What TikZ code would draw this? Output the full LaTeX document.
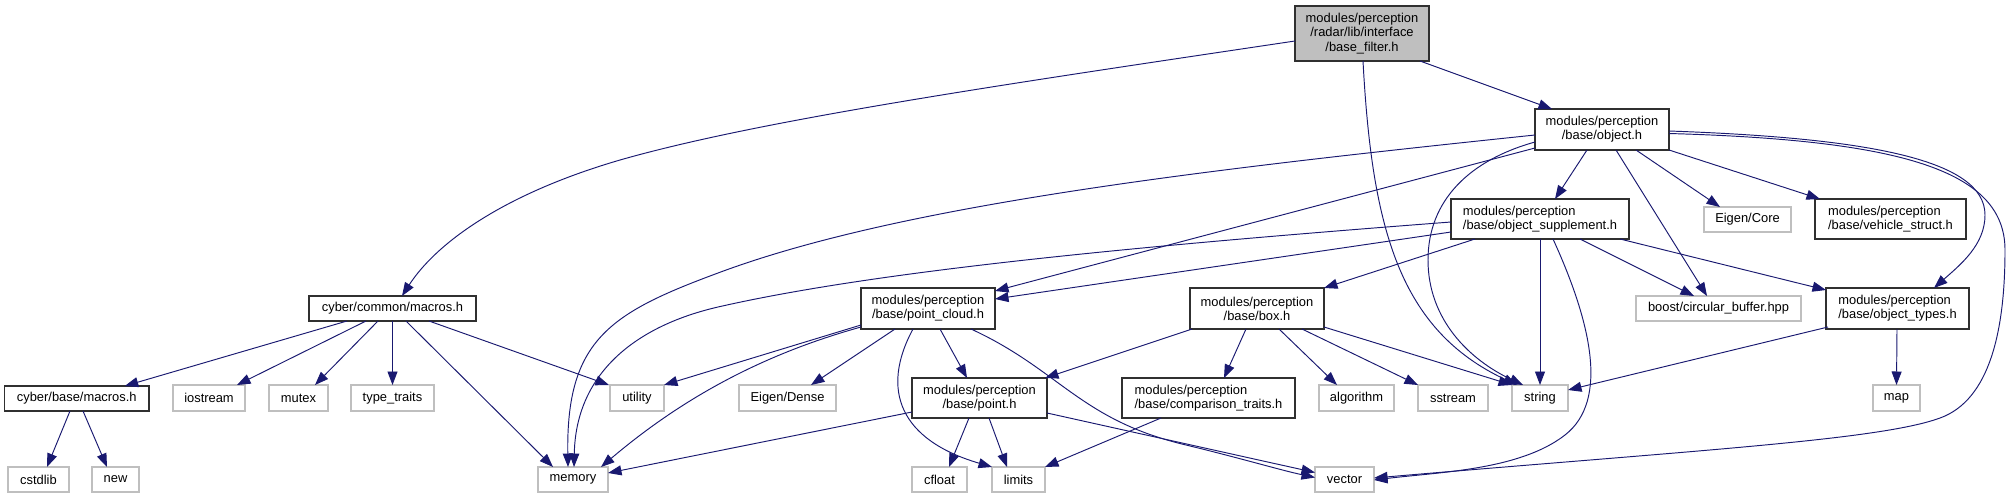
\documentclass[tikz,border=0pt]{standalone}
\usepackage{fontspec}
\setmainfont{Liberation Sans}
\usetikzlibrary{arrows.meta}
\definecolor{edgec}{HTML}{191970}
\definecolor{graybd}{HTML}{BFBFBF}
\definecolor{darkbd}{HTML}{303030}
\begin{document}
\begin{tikzpicture}[x=1pt,y=-1pt,
  every node/.style={font=\fontsize{12.9}{14.2}\selectfont, inner sep=0pt, outer sep=0pt},
  dbox/.style={draw=darkbd, line width=1.2pt, fill=white},
  gbox/.style={draw=graybd, line width=1.1pt, fill=white},
  dep/.style={draw=edgec, line width=0.95pt, -{Triangle[length=13.5pt,width=10pt]}}]
\useasboundingbox (0,0) rectangle (2011,499);
% nodes
\node[dbox, fill=graybd, minimum width=134pt, minimum height=55pt, align=center] (root) at (1362,33.5) {modules/perception\\/radar/lib/interface\\/base\_filter.h};
\node[dbox, minimum width=134pt, minimum height=41pt, align=center] (objh) at (1602,129.5) {modules/perception\\/base/object.h};
\node[dbox, minimum width=178pt, minimum height=40pt, align=left] (objsup) at (1540,219) {modules/perception\\/base/object\_supplement.h};
\node[gbox, minimum width=87pt, minimum height=25pt] (ecore) at (1747.5,219.5) {Eigen/Core};
\node[dbox, minimum width=151pt, minimum height=40pt, align=left] (veh) at (1890.5,219) {modules/perception\\/base/vehicle\_struct.h};
\node[dbox, minimum width=167pt, minimum height=25pt] (cm) at (392.5,308.5) {cyber/common/macros.h};
\node[dbox, minimum width=134pt, minimum height=41pt, align=center] (pc) at (928,308.5) {modules/perception\\/base/point\_cloud.h};
\node[dbox, minimum width=134pt, minimum height=41pt, align=center] (box) at (1257,308.5) {modules/perception\\/base/box.h};
\node[gbox, minimum width=165pt, minimum height=25pt] (boost) at (1718.5,308.5) {boost/circular\_buffer.hpp};
\node[dbox, minimum width=143pt, minimum height=41pt, align=left] (ot) at (1897.5,308.5) {modules/perception\\/base/object\_types.h};
\node[dbox, minimum width=144.5pt, minimum height=25pt] (bm) at (76.75,398.5) {cyber/base/macros.h};
\node[gbox, minimum width=72pt, minimum height=26pt] (io) at (209,398) {iostream};
\node[gbox, minimum width=59pt, minimum height=26pt] (mutex) at (298.5,398) {mutex};
\node[gbox, minimum width=83pt, minimum height=26pt] (tt) at (392.5,398) {type\_traits};
\node[gbox, minimum width=54pt, minimum height=26pt] (util) at (637,398) {utility};
\node[gbox, minimum width=97pt, minimum height=26pt] (edense) at (787.5,398) {Eigen/Dense};
\node[dbox, minimum width=135pt, minimum height=40pt, align=center] (pt) at (979.5,398) {modules/perception\\/base/point.h};
\node[dbox, minimum width=173pt, minimum height=40pt, align=left] (comp) at (1208.5,398) {modules/perception\\/base/comparison\_traits.h};
\node[gbox, minimum width=75pt, minimum height=26pt] (alg) at (1356.5,398) {algorithm};
\node[gbox, minimum width=70pt, minimum height=26pt] (sst) at (1453,398) {sstream};
\node[gbox, minimum width=56pt, minimum height=26pt] (str) at (1540,398) {string};
\node[gbox, minimum width=47pt, minimum height=26pt] (map) at (1896.5,398) {map};
\node[gbox, minimum width=61pt, minimum height=25pt] (cstd) at (38.5,479.5) {cstdlib};
\node[gbox, minimum width=47pt, minimum height=25pt] (new) at (115.5,479.5) {new};
\node[gbox, minimum width=70pt, minimum height=25pt] (mem) at (573,479.5) {memory};
\node[gbox, minimum width=55pt, minimum height=25pt] (cfl) at (939.5,479.5) {cfloat};
\node[gbox, minimum width=53pt, minimum height=25pt] (lim) at (1018.5,479.5) {limits};
\node[gbox, minimum width=59pt, minimum height=25pt] (vec) at (1344.5,479.5) {vector};
% edges from root
\draw[dep] ([shift={(58,0)}]root.south) -- ([shift={(-50,0)}]objh.north);
\draw[dep] ([shift={(0,7.5)}]root.west) .. controls (1000,85) and (760,120) .. (620,160) .. controls (500,195) and (435,245) .. ([shift={(9.5,0)}]cm.north);
\draw[dep] ([shift={(1,0)}]root.south) .. controls (1372,230) and (1400,330) .. ([shift={(-23,0)}]str.north);
% edges from object.h
\draw[dep] ([shift={(0,5.5)}]objh.west) .. controls (1200,170) and (900,205) .. (718,273) .. controls (610,313) and (566,340) .. ([shift={(-5,0)}]mem.north);
\draw[dep] ([shift={(0,18.5)}]objh.west) -- ([shift={(0,-17.5)}]pc.east);
\draw[dep] ([shift={(-15,0)}]objh.south) -- ([shift={(15,0)}]objsup.north);
\draw[dep] ([shift={(0,12.5)}]objh.west) .. controls (1470,160) and (1428,200) .. (1428,260) .. controls (1428,320) and (1470,360) .. ([shift={(-17,0)}]str.north);
\draw[dep] ([shift={(14,0)}]objh.south) -- ([shift={(-11.5,0)}]boost.north);
\draw[dep] ([shift={(34,0)}]objh.south) -- ([shift={(-27.5,0)}]ecore.north);
\draw[dep] (objh.south east) -- ([shift={(5,0)}]veh.north west);
\draw[dep] ([shift={(0,1.5)}]objh.east) .. controls (1870,138) and (1985,160) .. (1985,215) .. controls (1985,245) and (1960,265) .. ([shift={(36.5,0)}]ot.north);
\draw[dep] ([shift={(0,4)}]objh.east) .. controls (1900,140) and (2005,170) .. (2005,250) .. controls (2005,330) and (1990,400) .. (1940,418) .. controls (1880,440) and (1700,450) .. ([shift={(0,-1.5)}]vec.east);
% edges from object_supplement.h
\draw[dep] ([shift={(0,3)}]objsup.west) .. controls (1150,245) and (880,270) .. (718,307) .. controls (640,325) and (576,370) .. ([shift={(1,0)}]mem.north);
\draw[dep] ([shift={(0,13)}]objsup.west) -- ([shift={(0,-9.5)}]pc.east);
\draw[dep] ([shift={(-65,0)}]objsup.south) -- (box.north east);
\draw[dep] ([shift={(40,0)}]objsup.south) -- ([shift={(-24.5,0)}]boost.north);
\draw[dep] (objsup.south) -- (str.north);
\draw[dep] ([shift={(13,0)}]objsup.south) .. controls (1590,320) and (1610,400) .. (1565,435) .. controls (1520,470) and (1440,472) .. ([shift={(0,0.5)}]vec.east);
\draw[dep] ([shift={(80,0)}]objsup.south) -- ([shift={(0,-18.5)}]ot.west);
% edges from cyber/common/macros.h
\draw[dep] ([shift={(-45.5,0)}]cm.south) -- ([shift={(48,0)}]bm.north);
\draw[dep] ([shift={(-26.5,0)}]cm.south) -- ([shift={(28,0)}]io.north);
\draw[dep] ([shift={(-14.5,0)}]cm.south) -- ([shift={(16.5,0)}]mutex.north);
\draw[dep] (cm.south) -- (tt.north);
\draw[dep] ([shift={(36.5,0)}]cm.south) -- ([shift={(-28,0)}]util.north);
\draw[dep] ([shift={(13.5,0)}]cm.south) -- ([shift={(-20,0)}]mem.north);
% edges from cyber/base/macros.h
\draw[dep] ([shift={(-6.75,0)}]bm.south) -- ([shift={(8.5,0)}]cstd.north);
\draw[dep] ([shift={(6.25,0)}]bm.south) -- ([shift={(-8.5,0)}]new.north);
% edges from point_cloud.h
\draw[dep] ([shift={(0,16.5)}]pc.west) -- (util.north east);
\draw[dep] ([shift={(0,18.5)}]pc.west) .. controls (760,355) and (680,400) .. ([shift={(-7,0)}]mem.north east);
\draw[dep] ([shift={(-33,0)}]pc.south) -- ([shift={(23.5,0)}]edense.north);
\draw[dep] ([shift={(12,0)}]pc.south) -- ([shift={(-12.5,0)}]pt.north);
\draw[dep] ([shift={(-15,0)}]pc.south) .. controls (880,390) and (900,440) .. (lim.north west);
\draw[dep] ([shift={(43,0)}]pc.south) .. controls (1060,370) and (1080,420) .. (1186,445) .. controls (1240,458) and (1280,470) .. ([shift={(0,-2)}]vec.west);
% edges from box.h
\draw[dep] ([shift={(2,0)}]box.south west) -- ([shift={(-2,0)}]pt.north east);
\draw[dep] ([shift={(-11,0)}]box.south) -- ([shift={(15.5,0)}]comp.north);
\draw[dep] ([shift={(22,0)}]box.south) -- ([shift={(-19.5,0)}]alg.north);
\draw[dep] ([shift={(45,0)}]box.south) -- (sst.north west);
\draw[dep] ([shift={(0,-2)}]box.south east) -- (str.north west);
% edges from point.h
\draw[dep] ([shift={(0,14)}]pt.west) -- ([shift={(0,-6.5)}]mem.east);
\draw[dep] ([shift={(-10.5,0)}]pt.south) -- ([shift={(9.5,0)}]cfl.north);
\draw[dep] ([shift={(9.5,0)}]pt.south) -- ([shift={(-11.5,0)}]lim.north);
\draw[dep] ([shift={(0,15)}]pt.east) -- ([shift={(0,-7)}]vec.west);
% edges from comparison_traits.h
\draw[dep] ([shift={(-47.5,0)}]comp.south) -- (lim.north east);
% edges from object_types.h
\draw[dep] ([shift={(2,-2)}]ot.south west) -- ([shift={(0,-8)}]str.east);
\draw[dep] ([shift={(-0.5,0)}]ot.south) -- (map.north);
\end{tikzpicture}
\end{document}
